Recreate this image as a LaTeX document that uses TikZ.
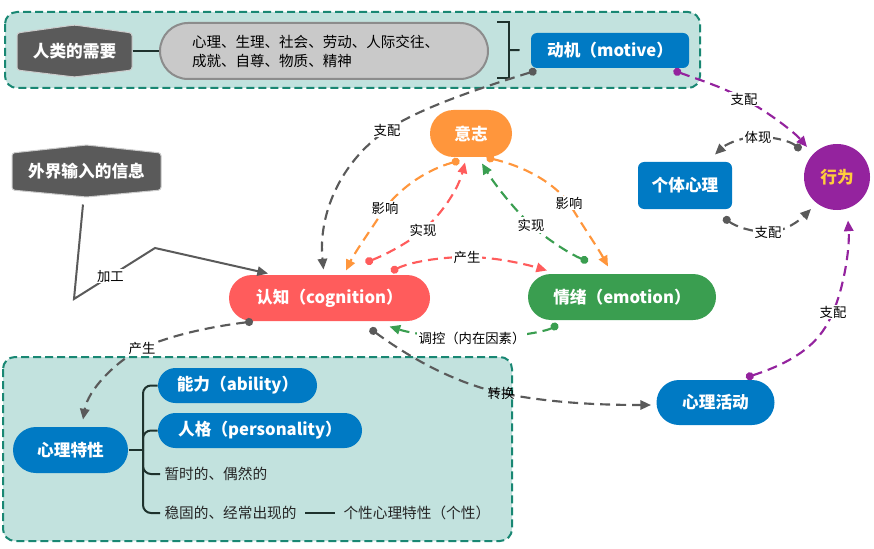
\documentclass[tikz,border=0pt]{standalone}
\usepackage{fontspec}
\setmainfont{Noto Sans CJK SC}
\usetikzlibrary{shapes.misc,arrows.meta,calc}

\definecolor{tealfill}{RGB}{194,226,222}
\definecolor{tealline}{RGB}{25,135,115}
\definecolor{hexgray}{RGB}{90,90,90}
\definecolor{pillgray}{RGB}{201,201,201}
\definecolor{pillline}{RGB}{140,140,140}
\definecolor{mmblue}{RGB}{0,122,196}
\definecolor{mmorange}{RGB}{255,150,60}
\definecolor{mmred}{RGB}{255,92,92}
\definecolor{mmgreen}{RGB}{58,158,80}
\definecolor{mmpurple}{RGB}{148,35,158}
\definecolor{mmyellow}{RGB}{255,205,60}
\definecolor{linkgray}{RGB}{90,90,90}
\definecolor{treeline}{RGB}{30,50,45}

\newcommand{\lblnode}{\fontsize{12.5}{15}\selectfont\bfseries}
\newcommand{\lbllink}{\fontsize{10}{12}\selectfont}
\newcommand{\lbllist}{\fontsize{10.9}{14.3}\selectfont}
\newcommand{\lblbranch}{\fontsize{11}{13}\selectfont}

\tikzset{every picture/.style={line width=0.75pt}}

\begin{document}
\begin{tikzpicture}[x=0.75pt,y=0.75pt,yscale=-1,xscale=1,
  pillnode/.style={rounded rectangle, fill=#1, text=white, font=\lblnode, inner sep=0pt},
  boxnode/.style={rectangle, rounded corners=4.5pt, fill=#1, text=white, font=\lblnode, inner sep=0pt},
  hexnode/.style={text=white, font=\lblnode, inner sep=0pt, minimum height=39pt},
  hexshape/.style={fill=hexgray, draw=black!20, line width=0.75pt, rounded corners=2pt},
  groupbox/.style={fill=tealfill, draw=tealline, line width=1.5pt, dash pattern=on 6pt off 3pt, rounded corners=9pt},
  treelink/.style={draw=treeline, line width=1.5pt, rounded corners=6pt},
  branchtext/.style={font=\lblbranch, text=black!85, inner sep=3pt},
  link/.style={draw=#1, line width=1.6pt, dash pattern=on 7.5pt off 4.5pt, {Circle[length=6pt]}-{Triangle[length=8pt,width=7pt]}},
  linklbl/.style={fill=white, inner sep=1pt, font=\lbllink, text=black},
  ]
\useasboundingbox (0,0) rectangle (874,549);

% groups
\draw[groupbox] (5,12) rectangle (700,88);
\draw[groupbox] (3,357) rectangle (512,541);

% hexagon shapes
\draw[hexshape] (17,33) -- (74.5,25) -- (132,33) -- (132,70) -- (74.5,77) -- (17,70) -- cycle;
\draw[hexshape] (12,153) -- (86.5,145) -- (161,153) -- (161,190) -- (86.5,197) -- (12,190) -- cycle;

% nodes
\node[hexnode, minimum width=86.25pt] (need) at (74.5,51) {人类的需要};
\node[hexnode, minimum width=111.75pt] (info) at (86.5,171) {外界输入的信息};
\node[rounded rectangle, fill=pillgray, draw=pillline, line width=1.5pt, minimum width=246pt, minimum height=42pt, text width=198pt, align=left, font=\lbllist, inner sep=0pt] (needlist) at (324,51) {心理、生理、社会、劳动、人际交往、\\成就、自尊、物质、精神};
\node[boxnode=mmblue, minimum width=118.5pt, minimum height=26.25pt] (motive) at (610,50.5) {动机（motive）};
\node[circle, fill=mmpurple, text=mmyellow, font=\lblnode, minimum size=49.5pt, inner sep=0pt] (act) at (837,177) {行为};
\node[boxnode=mmblue, minimum width=70.5pt, minimum height=35.25pt] (indiv) at (685,185.5) {个体心理};
\node[pillnode=mmorange, minimum width=61.5pt, minimum height=35.25pt] (will) at (471,133.5) {意志};
\node[pillnode=mmred, minimum width=150.75pt, minimum height=34.5pt] (cog) at (329.5,298) {认知（cognition）};
\node[pillnode=mmgreen, minimum width=141pt, minimum height=34.5pt] (emo) at (622,297) {情绪（emotion）};
\node[pillnode=mmblue, minimum width=88.5pt, minimum height=33.75pt] (activity) at (715.5,402.5) {心理活动};
\node[pillnode=mmblue, minimum width=86.25pt, minimum height=34.5pt] (trait) at (70.5,450) {心理特性};
\node[pillnode=mmblue, minimum width=119.25pt, minimum height=26.25pt] (ability) at (237.5,385.5) {能力（ability）};
\node[pillnode=mmblue, minimum width=153pt, minimum height=26.25pt] (person) at (260,430.5) {人格（personality）};
\node[branchtext, anchor=west] (temp) at (160,474) {暂时的、偶然的};
\node[branchtext, anchor=west] (stable) at (160,513) {稳固的、经常出现的};
\node[branchtext, anchor=west] (indivtrait) at (339,513) {个性心理特性（个性）};

% tree and bracket
\draw[treelink] (need.east) -- (needlist.west);
\draw[treelink, rounded corners=0pt] (497,22) -- (509,22) -- (509,78) -- (497,78);
\coordinate (brk) at (509,50);
\draw[treelink, shorten >=8.25pt] (brk) -- (motive.west);
\coordinate (fork) at (143,450);
\draw[treelink] (trait.east) -- (fork);
\draw[treelink] (fork) |- (ability.west);
\draw[treelink] (fork) |- (person.west);
\draw[treelink] (fork) |- (temp.west);
\draw[treelink] (fork) |- (stable.west);
\draw[treelink, shorten <=3pt, shorten >=3pt] (stable.east) -- (indivtrait.west);

% input
\coordinate (bendA) at (74,299);
\coordinate (bendB) at (155,248);
\draw[draw=linkgray, line width=1.5pt, -{Triangle[length=8pt,width=7pt]}] ($(info.south)+(-3.5,7)$) -- (bendA) -- node[linklbl, pos=0.45] {加工} (bendB) -- ($(cog.north west)+(16,-1)$);

% links
\draw[link=linkgray] ($(motive.south west)+(6,2)$) .. controls (480,88) and (420,108) .. (387,130) node[linklbl] {支配} .. controls (340,162) and (318,215) .. ($(cog.north)+(-6,-5)$);
\draw[link=mmpurple] ($(motive.south east)+(-16,2)$) .. controls (700,80) and (725,88) .. (744,99) node[linklbl] {支配} .. controls (770,113) and (795,133) .. ($(act)+(-30,-30)$);
\draw[link=linkgray] ($(act)+(-36,-27)$) .. controls (790,141) and (775,137) .. (758,137) node[linklbl] {体现} .. controls (740,137) and (725,145) .. ($(indiv.north)+(30,-7)$);
\draw[link=linkgray] ($(indiv.south east)+(-9,8)$) .. controls (735,226) and (750,232) .. (768,232) node[linklbl] {支配} .. controls (785,232) and (800,220) .. ($(act)+(-26,32)$);
\draw[link=mmpurple] ($(activity.north east)+(-6,-2)$) .. controls (800,360) and (822,340) .. (833,312) node[linklbl] {支配} .. controls (843,290) and (850,250) .. ($(act.south)+(11,10)$);
\draw[link=mmorange] ($(will.south west)+(6,3)$) .. controls (420,172) and (398,192) .. (385,208) node[linklbl] {影响} .. controls (372,228) and (355,252) .. ($(cog.north)+(16.5,-4)$);
\draw[link=mmred] ($(cog.north)+(36,-12)$) .. controls (385,255) and (410,242) .. (423,230) node[linklbl] {实现} .. controls (440,216) and (458,190) .. ($(will.south)+(-6,5)$);
\draw[link=mmred] ($(cog.north)+(61.5,-3)$) .. controls (410,262) and (440,257) .. (467,257) node[linklbl] {产生} .. controls (495,257) and (525,264) .. ($(emo.north)+(-75,-3)$);
\draw[link=mmgreen] ($(emo.north)+(-34,-12)$) .. controls (570,254) and (548,240) .. (531,225) node[linklbl] {实现} .. controls (515,210) and (495,185) .. ($(will.south)+(11,6)$);
\draw[link=mmorange] ($(will.south east)+(-2,0)$) .. controls (530,168) and (555,185) .. (569,203) node[linklbl] {影响} .. controls (582,225) and (598,248) .. ($(emo.north)+(-14,-7)$);
\draw[link=mmgreen] ($(emo.south)+(-64,4)$) .. controls (545,332) and (510,338) .. (472,338) node[linklbl] {调控（内在因素）} .. controls (440,338) and (410,333) .. ($(cog.south)+(60,5)$);
\draw[link=linkgray] ($(cog.south)+(40.5,7)$) .. controls (410,358) and (455,383) .. (501,393) node[linklbl, fill=none] {转换} .. controls (550,403) and (600,405) .. ($(activity.west)+(-5,2.5)$);
\draw[link=linkgray] ($(cog.south west)+(1,0)$) .. controls (200,328) and (165,338) .. (142,348) node[linklbl] {产生} .. controls (115,362) and (88,390) .. ($(trait.north)+(12.5,-7)$);

\end{tikzpicture}
\end{document}
